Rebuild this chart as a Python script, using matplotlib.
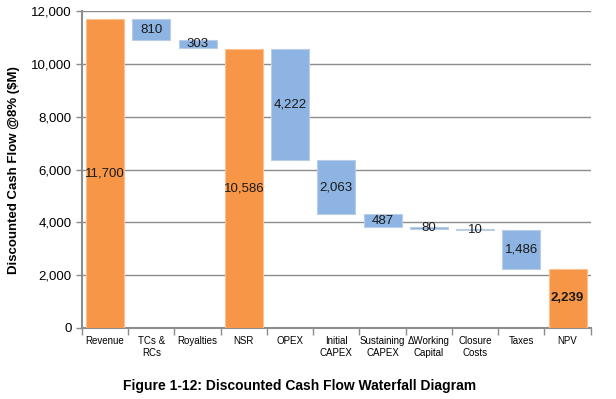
import matplotlib
matplotlib.use("Agg")
import matplotlib.pyplot as plt
from matplotlib.ticker import FuncFormatter, FixedLocator

categories = ["Revenue", "TCs &\nRCs", "Royalties", "NSR", "OPEX", "Initial\nCAPEX",
              "Sustaining\nCAPEX", "\u0394Working\nCapital", "Closure\nCosts", "Taxes", "NPV"]
values = [11700, 810, 303, 10586, 4222, 2063, 487, 80, 10, 1486, 2239]
is_total = [True, False, False, True, False, False, False, False, False, False, True]
labels = ["11,700", "810", "303", "10,586", "4,222", "2,063", "487", "80", "10", "1,486", "2,239"]

plt.rcParams['font.family'] = ['Liberation Sans', 'DejaVu Sans']

fig = plt.figure(figsize=(6.16, 3.99), dpi=100)
ax = fig.add_axes([0.133, 0.178, 0.826, 0.794])

orange = "#F79646"
blue = "#8DB4E2"

level = 0
bottoms = []
for v, t in zip(values, is_total):
    if t:
        bottoms.append(0)
        level = v
    else:
        level = level - v
        bottoms.append(level)

x = list(range(len(categories)))
colors = [orange if t else blue for t in is_total]
edges = ["#FAC090" if t else "#B9CDE5" for t in is_total]
ax.bar(x, values, bottom=bottoms, width=0.82, color=colors, edgecolor=edges,
       linewidth=0.8, zorder=3)

for xi, v, b, lab, t in zip(x, values, bottoms, labels, is_total):
    ax.text(xi, b + v / 2, lab, ha="center", va="center", fontsize=9.5,
            fontweight="bold" if xi == len(x) - 1 else "normal", color="#1a1a1a", zorder=4)

ax.set_xlim(-0.5, len(x) - 0.5)
ax.set_ylim(0, 12000)
ax.set_yticks(range(0, 12001, 2000))
ax.yaxis.set_major_formatter(FuncFormatter(lambda v, p: f"{int(v):,}"))
ax.grid(axis="y", color="#8C8C8C", linewidth=1.0, zorder=0)
ax.set_axisbelow(True)

ax.set_xticks(x)
ax.set_xticklabels(categories, fontsize=7, linespacing=1.15)
ax.tick_params(axis="x", length=0, pad=6)
ax.xaxis.set_minor_locator(FixedLocator([i - 0.5 for i in range(len(x) + 1)]))
ax.tick_params(axis="x", which="minor", length=5, color="#8C8C8C", width=1)
ax.tick_params(axis="y", labelsize=9.5, length=4, color="#8C8C8C", width=1)

for s in ["top", "right"]:
    ax.spines[s].set_visible(False)
ax.spines["left"].set_color("#8C8C8C")
ax.spines["left"].set_linewidth(1.5)
ax.spines["bottom"].set_color("#8C8C8C")
ax.spines["bottom"].set_linewidth(1.5)

ax.set_ylabel("Discounted Cash Flow @8% ($M)", fontsize=9.5, fontweight="bold", labelpad=8)

fig.text(0.487, 0.032, "Figure 1-12: Discounted Cash Flow Waterfall Diagram",
         ha="center", va="center", fontsize=10, fontweight="bold")

fig.savefig("out.png", dpi=100)
